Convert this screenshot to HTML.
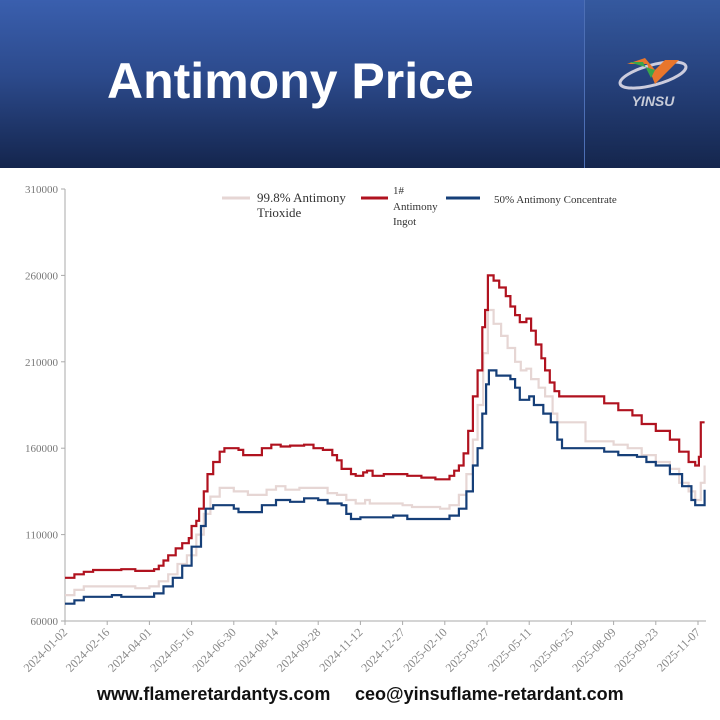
<!DOCTYPE html>
<html><head><meta charset="utf-8"><style>
body{margin:0;width:720px;height:720px;overflow:hidden;background:#fff;font-family:"Liberation Sans",sans-serif}
#hdr{position:absolute;left:0;top:0;width:720px;height:168px;background:linear-gradient(180deg,#3a5fae 0%,#2c4a8c 45%,#14254d 100%)}
#side{position:absolute;left:584px;top:0;width:136px;height:168px;background:linear-gradient(180deg,#35599f 0%,#25407a 50%,#15264d 100%);border-left:1px solid #4d6fb5}
#title{position:absolute;left:107px;top:52px;color:#fff;font-size:50px;font-weight:bold}
#foot{position:absolute;top:684px;left:0;width:720px;font-size:18px;color:#111;font-weight:bold}
</style></head><body>
<div id="hdr"></div>
<div id="side">
<svg width="136" height="168">
<ellipse cx="68" cy="75" rx="34" ry="10" fill="none" stroke="#ccd" stroke-width="3" transform="rotate(-15 68 75)"/>
<polygon points="42,64 62,64 70,84 94,60 80,60 70,70 60,58" fill="#e8762c"/>
<polygon points="44,62 58,62 66,78 70,70" fill="#3aa64a"/>
<text x="68" y="106" text-anchor="middle" fill="#c8ccd8" font-size="14" font-style="italic" font-weight="bold" font-family="Liberation Sans,sans-serif">YINSU</text>
</svg></div>
<div id="title">Antimony Price</div>
<svg id="chart" width="720" height="520" style="position:absolute;left:0;top:170px"></svg>
<div id="foot"><span style="position:absolute;left:97px">www.flameretardantys.com</span><span style="position:absolute;left:355px">ceo@yinsuflame-retardant.com</span></div>
<script>
const xTickLabels=["2024-01-02","2024-02-16","2024-04-01","2024-05-16","2024-06-30","2024-08-14","2024-09-28","2024-11-12","2024-12-27","2025-02-10","2025-03-27","2025-05-11","2025-06-25","2025-08-09","2025-09-23","2025-11-07"];
const yTicks=[60000,110000,160000,210000,260000,310000];
const ingotDays=[0,10,20,30,60,75,90,95,100,105,110,118,125,132,135,140,143,148,152,158,165,170,185,190,205,210,220,230,240,255,265,275,285,290,295,305,310,318,322,328,340,360,365,380,395,405,410,415,420,425,430,435,440,445,448,451,457,463,470,475,480,485,492,497,502,508,512,517,522,527,570,575,590,605,615,630,645,655,665,672,676,678,682];
const ingotVals=[85000,87000,88500,89500,90000,89000,89000,90000,92000,95000,98000,102000,105000,108000,115000,118000,125000,135000,145000,152000,158000,160000,159000,156000,156000,160000,162000,161000,161500,162000,160000,159000,156000,153000,148000,145000,144000,146000,147000,144000,145000,145000,144000,143000,142000,142000,144000,147000,150000,157000,170000,190000,205000,230000,240000,260000,257000,253000,248000,242000,237000,233000,235000,228000,220000,212000,205000,198000,193000,190000,190000,186000,182000,179000,174000,170000,165000,158000,152000,150000,155000,175000,175000];
const trioDays=[0,10,20,60,75,90,100,110,120,130,140,148,155,165,180,195,205,215,225,235,250,265,280,290,300,310,320,325,345,360,370,400,410,420,428,435,440,446,451,457,465,472,480,486,492,497,505,512,520,525,548,555,575,585,600,615,630,645,655,665,672,678,682];
const trioVals=[75000,78000,80000,80000,79000,80000,83000,87000,93000,98000,110000,122000,132000,137000,135000,133000,133000,136000,138000,136000,137000,137000,134000,133000,130000,128000,130000,128000,128000,127000,126000,125000,127000,133000,145000,165000,185000,215000,240000,232000,225000,218000,210000,205000,206000,200000,195000,190000,180000,175000,175000,164000,164000,162000,160000,156000,152000,148000,140000,135000,130000,140000,150000];
const concDays=[0,10,20,50,60,90,95,105,115,125,135,145,150,158,170,180,185,205,210,225,240,255,270,280,295,300,305,315,340,350,360,365,405,410,420,428,435,440,445,449,452,460,475,480,485,495,500,510,518,525,530,565,575,590,610,620,630,645,658,668,672,677,682];
const concVals=[70000,72000,74000,75000,74000,74000,76000,80000,85000,92000,103000,115000,125000,127000,127000,125000,123000,123000,127000,130000,129000,131000,130000,128000,127000,122000,119000,120000,120000,121000,121000,119000,119000,121000,125000,135000,150000,160000,180000,197000,205000,202000,200000,195000,188000,190000,185000,180000,175000,165000,160000,160000,158000,156000,155000,152000,150000,145000,138000,130000,127000,127000,136000];
const svg=document.getElementById('chart');const NS='http://www.w3.org/2000/svg';
const X0=65,X1=698,Y0=451,Y1=19;
const xs=d=>X0+d*(X1-X0)/675;
const ys=v=>Y0-(v-60000)*(Y0-Y1)/250000;
function el(t,a,p){const e=document.createElementNS(NS,t);for(const k in a)e.setAttribute(k,a[k]);(p||svg).appendChild(e);return e;}
const ax=el('line',{x1:X0,y1:Y1,x2:X0,y2:Y0,stroke:'#aaa'});


const bx=el('line',{x1:X0,y1:Y0,x2:706,y2:Y0,stroke:'#aaa'});


yTicks.forEach(v=>{el('line',{x1:X0-4,x2:X0,y1:ys(v),y2:ys(v),stroke:'#aaa'});
const t=el('text',{x:X0-7,y:ys(v)+4,'text-anchor':'end','font-size':11,fill:'#777','font-family':'Liberation Serif,serif'});t.textContent=v;

});
xTickLabels.forEach((l,i)=>{const x=xs(i*45);el('line',{x1:x,x2:x,y1:Y0,y2:Y0+4,stroke:'#aaa'});
const t=el('text',{x:x+3,y:Y0+12,'text-anchor':'end','font-size':12,fill:'#888','font-family':'Liberation Serif,serif',transform:`rotate(-45 ${x+3} ${Y0+12})`});t.textContent=l;

});
function step(days,vals,color,name){let d='';days.forEach((dd,i)=>{const x=xs(dd),y=ys(vals[i]);d+=i?`H${x.toFixed(1)}V${y.toFixed(1)}`:`M${x.toFixed(1)},${y.toFixed(1)}`;});
const p=el('path',{d,fill:'none',stroke:color,'stroke-width':2.2});

}
step(trioDays,trioVals,'#e6d6d4','series-antimony-trioxide');
step(ingotDays,ingotVals,'#b0121f','series-antimony-ingot');
step(concDays,concVals,'#163f78','series-antimony-concentrate');
const lg=el('g',{'font-family':'Liberation Serif,serif','font-size':12,fill:'#333'});


el('line',{x1:222,x2:250,y1:28,y2:28,stroke:'#e6d6d4','stroke-width':3},lg);
el('line',{x1:361,x2:388,y1:28,y2:28,stroke:'#b0121f','stroke-width':3},lg);
el('line',{x1:446,x2:480,y1:28,y2:28,stroke:'#163f78','stroke-width':3},lg);
[[257,32,'99.8% Antimony',13],[257,47,'Trioxide',13],[393,24,'1#',11],[393,40,'Antimony',11],[393,55,'Ingot',11],[494,33,'50% Antimony Concentrate',11]].forEach(a=>{const t=el('text',{x:a[0],y:a[1],'font-size':a[3]},lg);t.textContent=a[2];});
</script>
</body></html>
